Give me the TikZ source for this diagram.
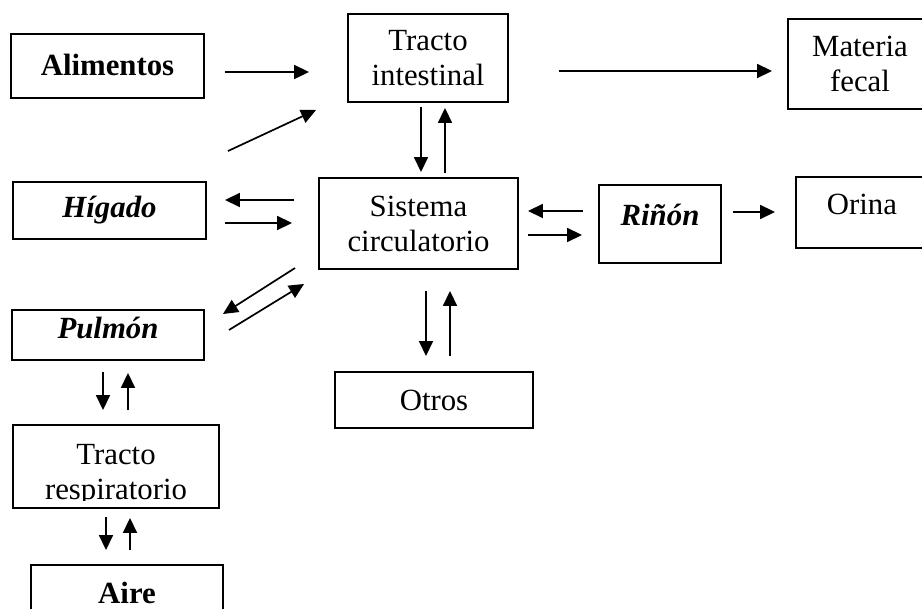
\documentclass[tikz,border=0pt]{standalone}
\usepackage{fontspec}
\setmainfont{Liberation Serif}
\usetikzlibrary{arrows.meta}

\tikzset{
  caja/.style={draw, line width=1.9pt, align=center, inner sep=0pt,
    font=\fontsize{30.8}{35}\selectfont},
  texto/.style={align=center, inner sep=0pt, font=\fontsize{30.8}{35}\selectfont},
  flecha/.style={line width=1.7pt, -{Triangle[length=15pt,width=14pt]}}
}

\begin{document}
\begin{tikzpicture}[x=1pt,y=-1pt]
  \useasboundingbox (0,0) rectangle (922,609);

  % cajas
  \node[caja, minimum width=193, minimum height=64, text depth=3pt] (alim) at (107.5,66) {\textbf{Alimentos}};
  \node[caja, minimum width=160, minimum height=88] (ti) at (428,58) {Tracto\\intestinal};
  \node[caja, minimum width=144, minimum height=90] (mf) at (860,64) {Materia\\fecal};
  \node[caja, minimum width=193, minimum height=57] (hig) at (109.5,210.5) {\textbf{\textit{Hígado}}};
  \node[caja, minimum width=199, minimum height=91] (sc) at (418.5,223.5) {Sistema\\circulatorio};
  \node[caja, minimum width=122, minimum height=78, text depth=19pt] (rin) at (660,224) {\textbf{\textit{Riñón}}};
  \node[caja, minimum width=132, minimum height=71, text depth=16pt] (ori) at (862,212.5) {Orina};
  \node[caja, minimum width=192, minimum height=50, text depth=15pt] (pul) at (108,335) {\textbf{\textit{Pulmón}}};
  \node[caja, minimum width=198, minimum height=56] (otr) at (434,400) {Otros};
  \node[caja, minimum width=206, minimum height=83] (tre) at (116,466.5) {};
  \begin{scope}
    \clip (tre.north west) rectangle ([yshift=8pt]tre.south east);
    \node[texto] (tretxt) at ([yshift=-8.5pt]tre.center) {Tracto\\respiratorio};
  \end{scope}
  \node[caja, minimum width=192, minimum height=55] (aire) at (127,592.5) {\textbf{Aire}};

  % flechas
  \draw[flecha] ([xshift=20pt,yshift=-6pt]alim.east) -- ([xshift=-38pt,yshift=-14pt]ti.west);
  \draw[flecha] ([xshift=21pt,yshift=30pt]hig.north east) -- ([xshift=-31pt,yshift=-52pt]ti.west);
  \draw[flecha] ([xshift=-7pt,yshift=-4pt]ti.south) -- ([xshift=2.5pt,yshift=5pt]sc.north);
  \draw[flecha] ([xshift=26.5pt,yshift=4pt]sc.north) -- ([xshift=17pt,yshift=-5pt]ti.south);
  \draw[flecha] ([xshift=50pt,yshift=-13pt]ti.east) -- ([xshift=-15pt,yshift=-7pt]mf.west);

  \draw[flecha] ([xshift=-24pt,yshift=23.5pt]sc.west) -- ([xshift=18pt,yshift=10.5pt]hig.east);
  \draw[flecha] ([xshift=18pt,yshift=-12.5pt]hig.east) -- ([xshift=-26pt,yshift=0.5pt]sc.west);
  \draw[flecha] ([xshift=-23pt,yshift=-44.5pt]sc.west) -- ([xshift=18pt,yshift=21pt]pul.east);
  \draw[flecha] ([xshift=24pt,yshift=5pt]pul.east) -- ([xshift=-14pt,yshift=-60.5pt]sc.west);

  \draw[flecha] ([xshift=-15pt,yshift=13pt]rin.west) -- ([xshift=9pt,yshift=12.5pt]sc.east);
  \draw[flecha] ([xshift=9pt,yshift=-11.5pt]sc.east) -- ([xshift=-16pt,yshift=-11pt]rin.west);
  \draw[flecha] ([xshift=11pt,yshift=12pt]rin.east) -- ([xshift=-20pt,yshift=0.5pt]ori.west);

  \draw[flecha] ([xshift=7.5pt,yshift=-21pt]sc.south) -- ([xshift=-8pt,yshift=15pt]otr.north);
  \draw[flecha] ([xshift=16pt,yshift=15pt]otr.north) -- ([xshift=31.5pt,yshift=-21pt]sc.south);

  \draw[flecha] ([xshift=-5pt,yshift=-11pt]pul.south) -- ([xshift=-13pt,yshift=14pt]tre.north);
  \draw[flecha] ([xshift=12pt,yshift=14pt]tre.north) -- ([xshift=20pt,yshift=-12pt]pul.south);
  \draw[flecha] ([xshift=-10pt,yshift=-8pt]tre.south) -- ([xshift=-21pt,yshift=14pt]aire.north);
  \draw[flecha] ([xshift=3pt,yshift=14pt]aire.north) -- ([xshift=14pt,yshift=-9pt]tre.south);
\end{tikzpicture}
\end{document}
